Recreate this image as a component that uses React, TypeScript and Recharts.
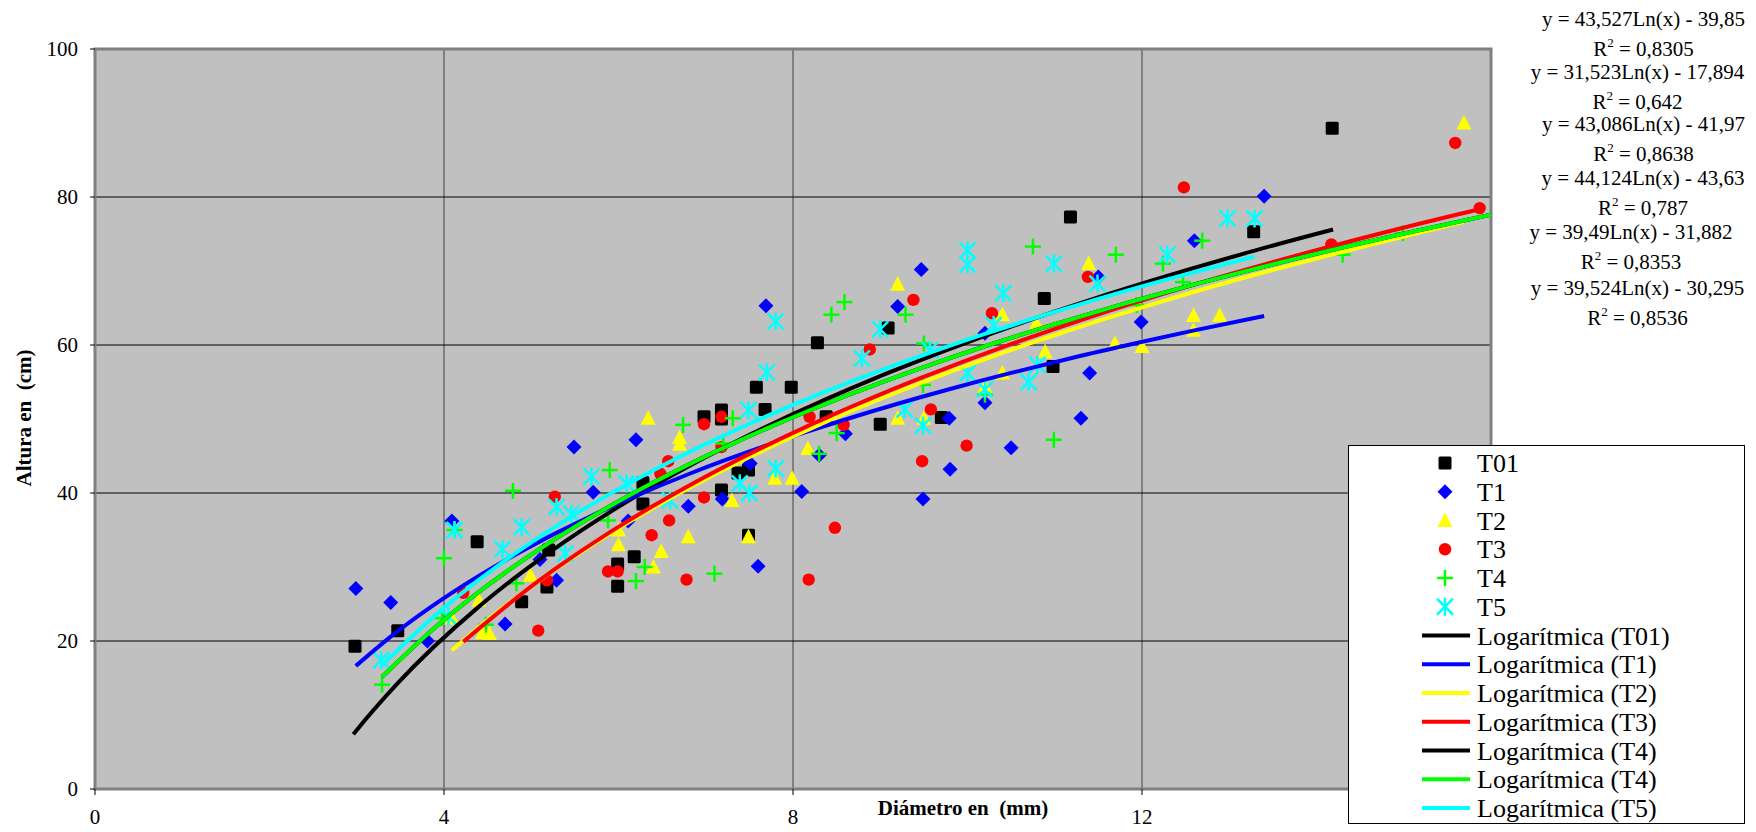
import React from "react";
import { ScatterChart, Scatter, XAxis, YAxis, CartesianGrid, ReferenceArea } from "recharts";

type Pt = { x: number; y: number };

const FONT = "Liberation Serif, Times New Roman, serif";

const T01: Pt[] = [
  { x: 2.98, y: 19.3 }, { x: 3.47, y: 21.4 }, { x: 4.38, y: 33.4 }, { x: 4.89, y: 25.3 }, { x: 5.18, y: 27.3 },
  { x: 5.2, y: 32.3 }, { x: 5.99, y: 27.4 }, { x: 5.99, y: 30.4 }, { x: 6.18, y: 31.4 }, { x: 6.28, y: 38.5 },
  { x: 6.28, y: 41.4 }, { x: 6.98, y: 50.3 }, { x: 7.18, y: 40.4 }, { x: 7.18, y: 51.2 }, { x: 7.18, y: 50.0 },
  { x: 7.37, y: 42.7 }, { x: 7.49, y: 43.1 }, { x: 7.49, y: 34.3 }, { x: 7.58, y: 54.3 }, { x: 7.68, y: 51.3 },
  { x: 7.98, y: 54.3 }, { x: 8.28, y: 60.3 }, { x: 8.38, y: 50.3 }, { x: 9.0, y: 49.3 }, { x: 9.09, y: 62.3 },
  { x: 9.7, y: 50.2 }, { x: 10.88, y: 66.3 }, { x: 10.98, y: 57.1 }, { x: 11.18, y: 77.3 }, { x: 13.28, y: 75.3 },
  { x: 14.18, y: 89.3 },
];
const T1: Pt[] = [
  { x: 2.99, y: 27.1 }, { x: 3.39, y: 25.2 }, { x: 3.81, y: 20.0 }, { x: 4.09, y: 36.2 }, { x: 4.7, y: 22.3 },
  { x: 5.1, y: 31.0 }, { x: 5.29, y: 28.2 }, { x: 5.49, y: 46.2 }, { x: 5.71, y: 40.1 }, { x: 6.11, y: 36.2 },
  { x: 6.2, y: 47.2 }, { x: 6.8, y: 38.2 }, { x: 7.19, y: 39.2 }, { x: 7.51, y: 44.0 }, { x: 7.6, y: 30.1 },
  { x: 7.69, y: 65.3 }, { x: 8.1, y: 40.2 }, { x: 8.3, y: 45.1 }, { x: 8.6, y: 48.0 }, { x: 9.2, y: 65.2 },
  { x: 9.47, y: 70.2 }, { x: 9.49, y: 39.2 }, { x: 9.79, y: 50.1 }, { x: 9.8, y: 43.2 }, { x: 10.2, y: 52.2 },
  { x: 10.2, y: 61.6 }, { x: 10.5, y: 46.1 }, { x: 11.3, y: 50.1 }, { x: 11.4, y: 56.2 }, { x: 11.5, y: 69.2 },
  { x: 11.99, y: 63.1 }, { x: 12.6, y: 74.1 }, { x: 13.4, y: 80.1 },
];
const T2: Pt[] = [
  { x: 4.09, y: 23.1 }, { x: 4.4, y: 25.5 }, { x: 4.44, y: 21.1 }, { x: 4.52, y: 21.0 }, { x: 4.99, y: 28.9 },
  { x: 6.0, y: 33.0 }, { x: 6.0, y: 35.0 }, { x: 6.34, y: 50.1 }, { x: 6.4, y: 30.0 }, { x: 6.49, y: 32.1 },
  { x: 6.7, y: 47.5 }, { x: 6.7, y: 46.6 }, { x: 6.8, y: 34.1 }, { x: 7.3, y: 39.0 }, { x: 7.49, y: 34.1 },
  { x: 7.79, y: 42.0 }, { x: 7.99, y: 42.0 }, { x: 8.17, y: 46.0 }, { x: 9.2, y: 50.1 }, { x: 9.2, y: 68.2 },
  { x: 9.5, y: 50.1 }, { x: 10.2, y: 54.4 }, { x: 10.4, y: 56.2 }, { x: 10.4, y: 64.1 }, { x: 10.79, y: 62.9 },
  { x: 10.89, y: 59.1 }, { x: 11.39, y: 71.0 }, { x: 11.69, y: 60.2 }, { x: 12.0, y: 59.8 }, { x: 12.59, y: 64.0 },
  { x: 12.59, y: 62.0 }, { x: 12.89, y: 64.0 }, { x: 15.69, y: 90.0 },
];
const T3: Pt[] = [
  { x: 4.22, y: 26.5 }, { x: 5.08, y: 21.4 }, { x: 5.18, y: 28.2 }, { x: 5.27, y: 39.5 }, { x: 5.88, y: 29.4 },
  { x: 5.99, y: 29.4 }, { x: 6.38, y: 34.3 }, { x: 6.48, y: 42.6 }, { x: 6.57, y: 44.3 }, { x: 6.58, y: 36.3 },
  { x: 6.78, y: 28.3 }, { x: 6.98, y: 49.3 }, { x: 6.98, y: 39.4 }, { x: 7.18, y: 50.3 }, { x: 7.18, y: 46.2 },
  { x: 8.18, y: 28.3 }, { x: 8.19, y: 50.3 }, { x: 8.48, y: 35.3 }, { x: 8.58, y: 49.2 }, { x: 8.88, y: 59.4 },
  { x: 9.38, y: 66.1 }, { x: 9.48, y: 44.3 }, { x: 9.58, y: 51.3 }, { x: 9.99, y: 46.4 }, { x: 10.28, y: 64.3 },
  { x: 11.38, y: 69.2 }, { x: 12.48, y: 81.3 }, { x: 14.17, y: 73.6 }, { x: 15.59, y: 87.3 }, { x: 15.87, y: 78.5 },
];
const T4: Pt[] = [
  { x: 3.29, y: 14.1 }, { x: 3.98, y: 23.1 }, { x: 4.0, y: 31.2 }, { x: 4.12, y: 35.0 }, { x: 4.48, y: 22.2 },
  { x: 4.79, y: 40.3 }, { x: 4.83, y: 27.8 }, { x: 5.88, y: 36.3 }, { x: 5.9, y: 43.1 }, { x: 6.2, y: 28.1 },
  { x: 6.3, y: 30.0 }, { x: 6.74, y: 49.2 }, { x: 7.1, y: 29.1 }, { x: 7.2, y: 46.7 }, { x: 7.31, y: 50.1 },
  { x: 8.3, y: 45.3 }, { x: 8.44, y: 64.1 }, { x: 8.5, y: 48.1 }, { x: 8.59, y: 65.8 }, { x: 9.29, y: 64.1 },
  { x: 9.49, y: 54.6 }, { x: 9.5, y: 60.2 }, { x: 10.2, y: 53.3 }, { x: 10.75, y: 73.3 }, { x: 10.99, y: 47.2 },
  { x: 11.7, y: 72.2 }, { x: 11.94, y: 65.4 }, { x: 12.24, y: 71.0 }, { x: 12.47, y: 68.5 }, { x: 12.69, y: 74.1 },
  { x: 14.3, y: 72.2 }, { x: 14.99, y: 75.1 },
];
const T5: Pt[] = [
  { x: 3.28, y: 17.4 }, { x: 4.05, y: 23.3 }, { x: 4.12, y: 35.0 }, { x: 4.67, y: 32.4 }, { x: 4.89, y: 35.4 },
  { x: 5.29, y: 38.1 }, { x: 5.39, y: 31.8 }, { x: 5.46, y: 37.2 }, { x: 5.69, y: 42.2 }, { x: 6.09, y: 41.3 },
  { x: 6.59, y: 39.0 }, { x: 7.39, y: 41.3 }, { x: 7.49, y: 51.2 }, { x: 7.5, y: 40.0 }, { x: 7.7, y: 56.3 },
  { x: 7.8, y: 63.2 }, { x: 7.8, y: 43.3 }, { x: 8.79, y: 58.2 }, { x: 9.0, y: 62.1 }, { x: 9.28, y: 51.3 },
  { x: 9.49, y: 49.1 }, { x: 9.57, y: 59.3 }, { x: 10.0, y: 56.2 }, { x: 10.0, y: 72.8 }, { x: 10.0, y: 70.9 },
  { x: 10.2, y: 54.0 }, { x: 10.3, y: 62.7 }, { x: 10.41, y: 67.0 }, { x: 10.7, y: 55.0 }, { x: 10.8, y: 57.3 },
  { x: 10.99, y: 71.0 }, { x: 11.49, y: 68.3 }, { x: 12.29, y: 72.2 }, { x: 12.98, y: 77.1 }, { x: 13.29, y: 77.1 },
];

// trendline equations printed on the chart: y = a*Ln(x) + b
const seriesNames = ["T01", "T1", "T2", "T3", "T4", "T5"];
const trendNames = ["Logarítmica (T01)", "Logarítmica (T1)", "Logarítmica (T2)", "Logarítmica (T3)", "Logarítmica (T4)", "Logarítmica (T4)", "Logarítmica (T5)"];
const trendA = [43.527, 31.523, 43.086, 44.124, 39.49, 39.49, 39.524];
const trendB = [-39.85, -17.894, -41.97, -43.63, -31.882, -31.882, -30.295];
const trendFrom = [2.96, 2.99, 4.09, 4.22, 3.29, 3.29, 3.28];
const trendTo = [14.19, 13.4, 15.69, 15.87, 16, 16, 13.29];
const trendColors = ["#000000", "#0000FF", "#FFFF00", "#FF0000", "#000000", "#00FF00", "#00FFFF"];
const trendSource = [T01, T1, T2, T3, T4, T4, T5];

const eqLines = [
  ["y = 43,527Ln(x) - 39,85", "0,8305"],
  ["y = 31,523Ln(x) - 17,894", "0,642"],
  ["y = 43,086Ln(x) - 41,97", "0,8638"],
  ["y = 44,124Ln(x) - 43,63", "0,787"],
  ["y = 39,49Ln(x) - 31,882", "0,8353"],
  ["y = 39,524Ln(x) - 30,295", "0,8536"],
];

const xTicks = [0, 4, 8, 12, 16];
const yTicks = [0, 20, 40, 60, 80, 100];

// fitted curve evaluated at the series' own x values (plus the ends of its range)
function trendData(i: number): Pt[] {
  const xs = Array.from(new Set([trendFrom[i], ...trendSource[i].map((p) => p.x), trendTo[i]]))
    .filter((x) => x >= trendFrom[i] && x <= trendTo[i])
    .sort((a, b) => a - b);
  return xs.map((x) => ({ x, y: trendA[i] * Math.log(x) + trendB[i] }));
}

// marker shapes
const Square = ({ cx, cy }: any) => <rect x={cx - 6.5} y={cy - 6.5} width={13} height={13} rx={1.5} fill="#000" />;
const Diamond = ({ cx, cy }: any) => (
  <polygon points={`${cx},${cy - 7.5} ${cx + 7.5},${cy} ${cx},${cy + 7.5} ${cx - 7.5},${cy}`} fill="#0000FF" />
);
const Tri = ({ cx, cy }: any) => (
  <polygon points={`${cx},${cy - 8} ${cx + 7.5},${cy + 6.5} ${cx - 7.5},${cy + 6.5}`} fill="#FFFF00" />
);
const Dot = ({ cx, cy }: any) => <circle cx={cx} cy={cy} r={6.2} fill="#FF0000" />;
const Plus = ({ cx, cy }: any) => (
  <g stroke="#00FF00" strokeWidth={2.5}>
    <line x1={cx - 8} y1={cy} x2={cx + 8} y2={cy} />
    <line x1={cx} y1={cy - 8} x2={cx} y2={cy + 8} />
  </g>
);
const Star = ({ cx, cy }: any) => (
  <g stroke="#00FFFF" strokeWidth={2.5}>
    <line x1={cx - 8} y1={cy - 8} x2={cx + 8} y2={cy + 8} />
    <line x1={cx - 8} y1={cy + 8} x2={cx + 8} y2={cy - 8} />
    <line x1={cx} y1={cy - 9} x2={cx} y2={cy + 9} />
  </g>
);
const None = () => <g />;

const markers = [Square, Diamond, Tri, Dot, Plus, Star];
const seriesData = [T01, T1, T2, T3, T4, T5];

// the 16 label sits under the legend in the original, so only its tick mark shows
const XTick = ({ x, y, payload }: any) =>
  payload.value === 16 ? <g /> : (
    <text x={x} y={y} dy="0.71em" textAnchor="middle" fill="#000" fontSize={21} style={{ fontFamily: FONT }}>
      {payload.value}
    </text>
  );
const YTick = ({ x, y, payload }: any) => (
  <text x={x} y={y} dy="0.355em" textAnchor="end" fill="#000" fontSize={21} style={{ fontFamily: FONT }}>
    {payload.value}
  </text>
);

export default function App() {
  const serif = { fontFamily: FONT };
  return (
    <div style={{ position: "absolute", left: 0, top: 0, width: 1756, height: 832, background: "#fff", ...serif }}>
      <ScatterChart width={1756} height={832} margin={{ top: 49, right: 265, bottom: 0, left: 0 }}>
        <CartesianGrid horizontal={false} stroke="#404040" fill="#C0C0C0" fillOpacity={1} />
        <CartesianGrid vertical={false} stroke="#000" />
        <XAxis
          type="number" dataKey="x" domain={[0, 16]} ticks={xTicks} interval={0} allowDataOverflow
          height={43} axisLine={false} tickSize={6} tickMargin={14} tick={<XTick />} tickLine={{ stroke: "#000" }}
        />
        <YAxis
          type="number" dataKey="y" domain={[0, 100]} ticks={yTicks} interval={0} allowDataOverflow
          width={95} axisLine={false} tickSize={5} tickMargin={12} tick={<YTick />} tickLine={{ stroke: "#000" }}
        />
        {seriesData.map((d, i) => (
          <Scatter key={seriesNames[i]} name={seriesNames[i]} data={d} shape={markers[i]} isAnimationActive={false} />
        ))}
        {trendNames.map((n, i) => (
          <Scatter
            key={"tr" + i} name={n} data={trendData(i)} shape={None} lineType="joint" lineJointType="monotoneX"
            line={{ stroke: trendColors[i], strokeWidth: 4 }} isAnimationActive={false}
          />
        ))}
        <ReferenceArea x1={0} x2={16} y1={0} y2={100} fill="none" stroke="#808080" strokeWidth={3} ifOverflow="visible" />
      </ScatterChart>

      <svg width={1756} height={832} style={{ position: "absolute", left: 0, top: 0, pointerEvents: "none", ...serif }}>
        <text
          transform="translate(31,418) rotate(-90)" textAnchor="middle"
          fontWeight="bold" fontSize={21} style={{ whiteSpace: "pre", ...serif }}
        >
          {"Altura en  (cm)"}
        </text>
        <text x={963} y={815} textAnchor="middle" fontWeight="bold" fontSize={21} style={{ whiteSpace: "pre", ...serif }}>
          {"Diámetro en  (mm)"}
        </text>

        {eqLines.map(([eq, r2], i) => {
          const cxs = [1643.5, 1637.5, 1643.5, 1643, 1631, 1637.5];
          const tops = [19, 72, 124, 178, 232, 288];
          const cx = cxs[i];
          const cy = tops[i];
          return (
            <g key={"eq" + i} fontSize={21} fill="#000" textAnchor="middle" style={serif}>
              <text x={cx} y={cy + 7}>{eq}</text>
              <text x={cx} y={cy + 30 + 7}>
                R<tspan fontSize={13} dy={-9}>2</tspan>
                <tspan dy={9}>{" = " + r2}</tspan>
              </text>
            </g>
          );
        })}

        <rect x={1348.5} y={445.5} width={396} height={378} fill="#fff" stroke="#000" strokeWidth={1} />
        {[...seriesNames, ...trendNames].map((n, i) => {
          const cy = 463 + i * 28.75;
          const M = i < 6 ? markers[i] : null;
          return (
            <g key={"lg" + i}>
              {M ? (
                <M cx={1445} cy={cy} />
              ) : (
                <line x1={1422} y1={cy} x2={1470} y2={cy} stroke={trendColors[i - 6]} strokeWidth={4} />
              )}
              <text x={1477} y={cy + 9} fontSize={26} fill="#000" style={serif}>{n}</text>
            </g>
          );
        })}
      </svg>
    </div>
  );
}
